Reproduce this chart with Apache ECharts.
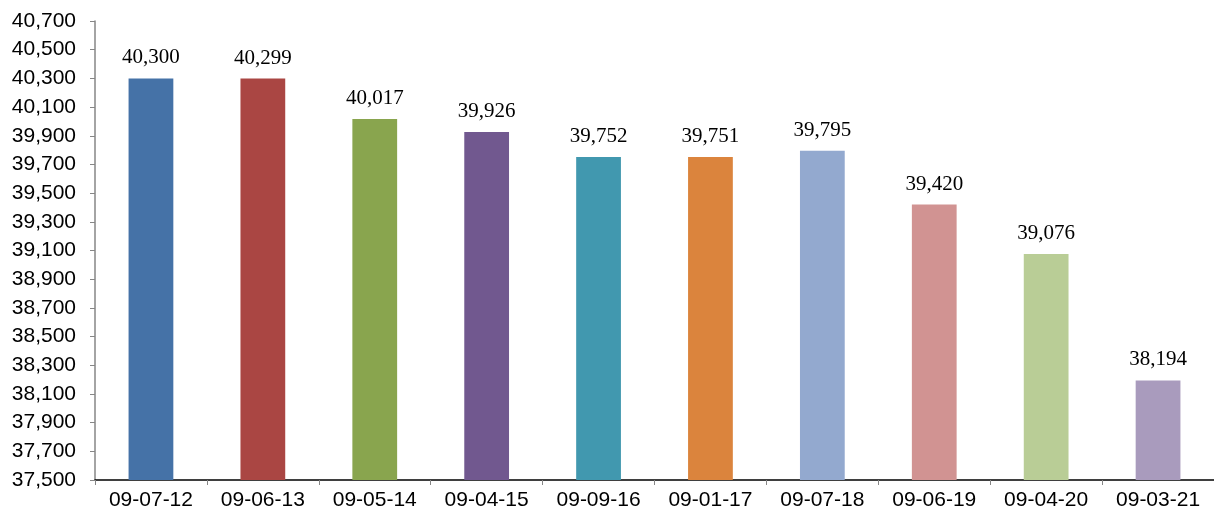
<!DOCTYPE html>
<html><head><meta charset="utf-8">
<script src="https://cdn.jsdelivr.net/npm/echarts@6/dist/echarts.min.js"></script>
<style>html,body{margin:0;padding:0;background:#fff}#c{width:1214px;height:516px}</style>
</head><body><div id="c"></div>
<script>
const categories = ['09-07-12','09-06-13','09-05-14','09-04-15','09-09-16','09-01-17','09-07-18','09-06-19','09-04-20','09-03-21'];
const values = [40300,40299,40017,39926,39752,39751,39795,39420,39076,38194];
const colors = ['#4572A7','#AA4643','#89A54E','#71588F','#4198AF','#DB843D','#93A9CF','#D19392','#B9CD96','#A99BBD'];
const yMin = 37500, yMax = 40700, yStep = 200;

const chart = echarts.init(document.getElementById('c'));
chart.setOption({
  animation:false,
  grid:{left:95,right:0,top:21,bottom:36,containLabel:false},
  xAxis:{type:'category',data:categories,
    axisLine:{lineStyle:{color:'#000',width:1.5}},
    axisTick:{show:true,alignWithLabel:false,length:5,lineStyle:{color:'#868686'}},
    axisLabel:{color:'#000',fontFamily:'Liberation Sans, Arial',fontSize:21,margin:10}},
  yAxis:{type:'value',min:yMin,max:yMax,interval:yStep,
    axisLine:{show:true,lineStyle:{color:'#868686',width:1.5}},
    axisTick:{show:true,length:5,lineStyle:{color:'#868686'}},
    splitLine:{show:false},
    axisLabel:{color:'#000',fontFamily:'Liberation Sans, Arial',fontSize:21,margin:19,
      formatter:v=>v.toLocaleString('en-US')}},
  series:[{type:'bar',barCategoryGap:'60%',
    data:values.map((v,i)=>({value:v,itemStyle:{color:colors[i]}})),
    label:{show:true,position:'top',distance:10,color:'#000',fontFamily:'Liberation Serif, Times New Roman',fontSize:21,
      formatter:p=>p.value.toLocaleString('en-US')}}]
});
</script></body></html>
